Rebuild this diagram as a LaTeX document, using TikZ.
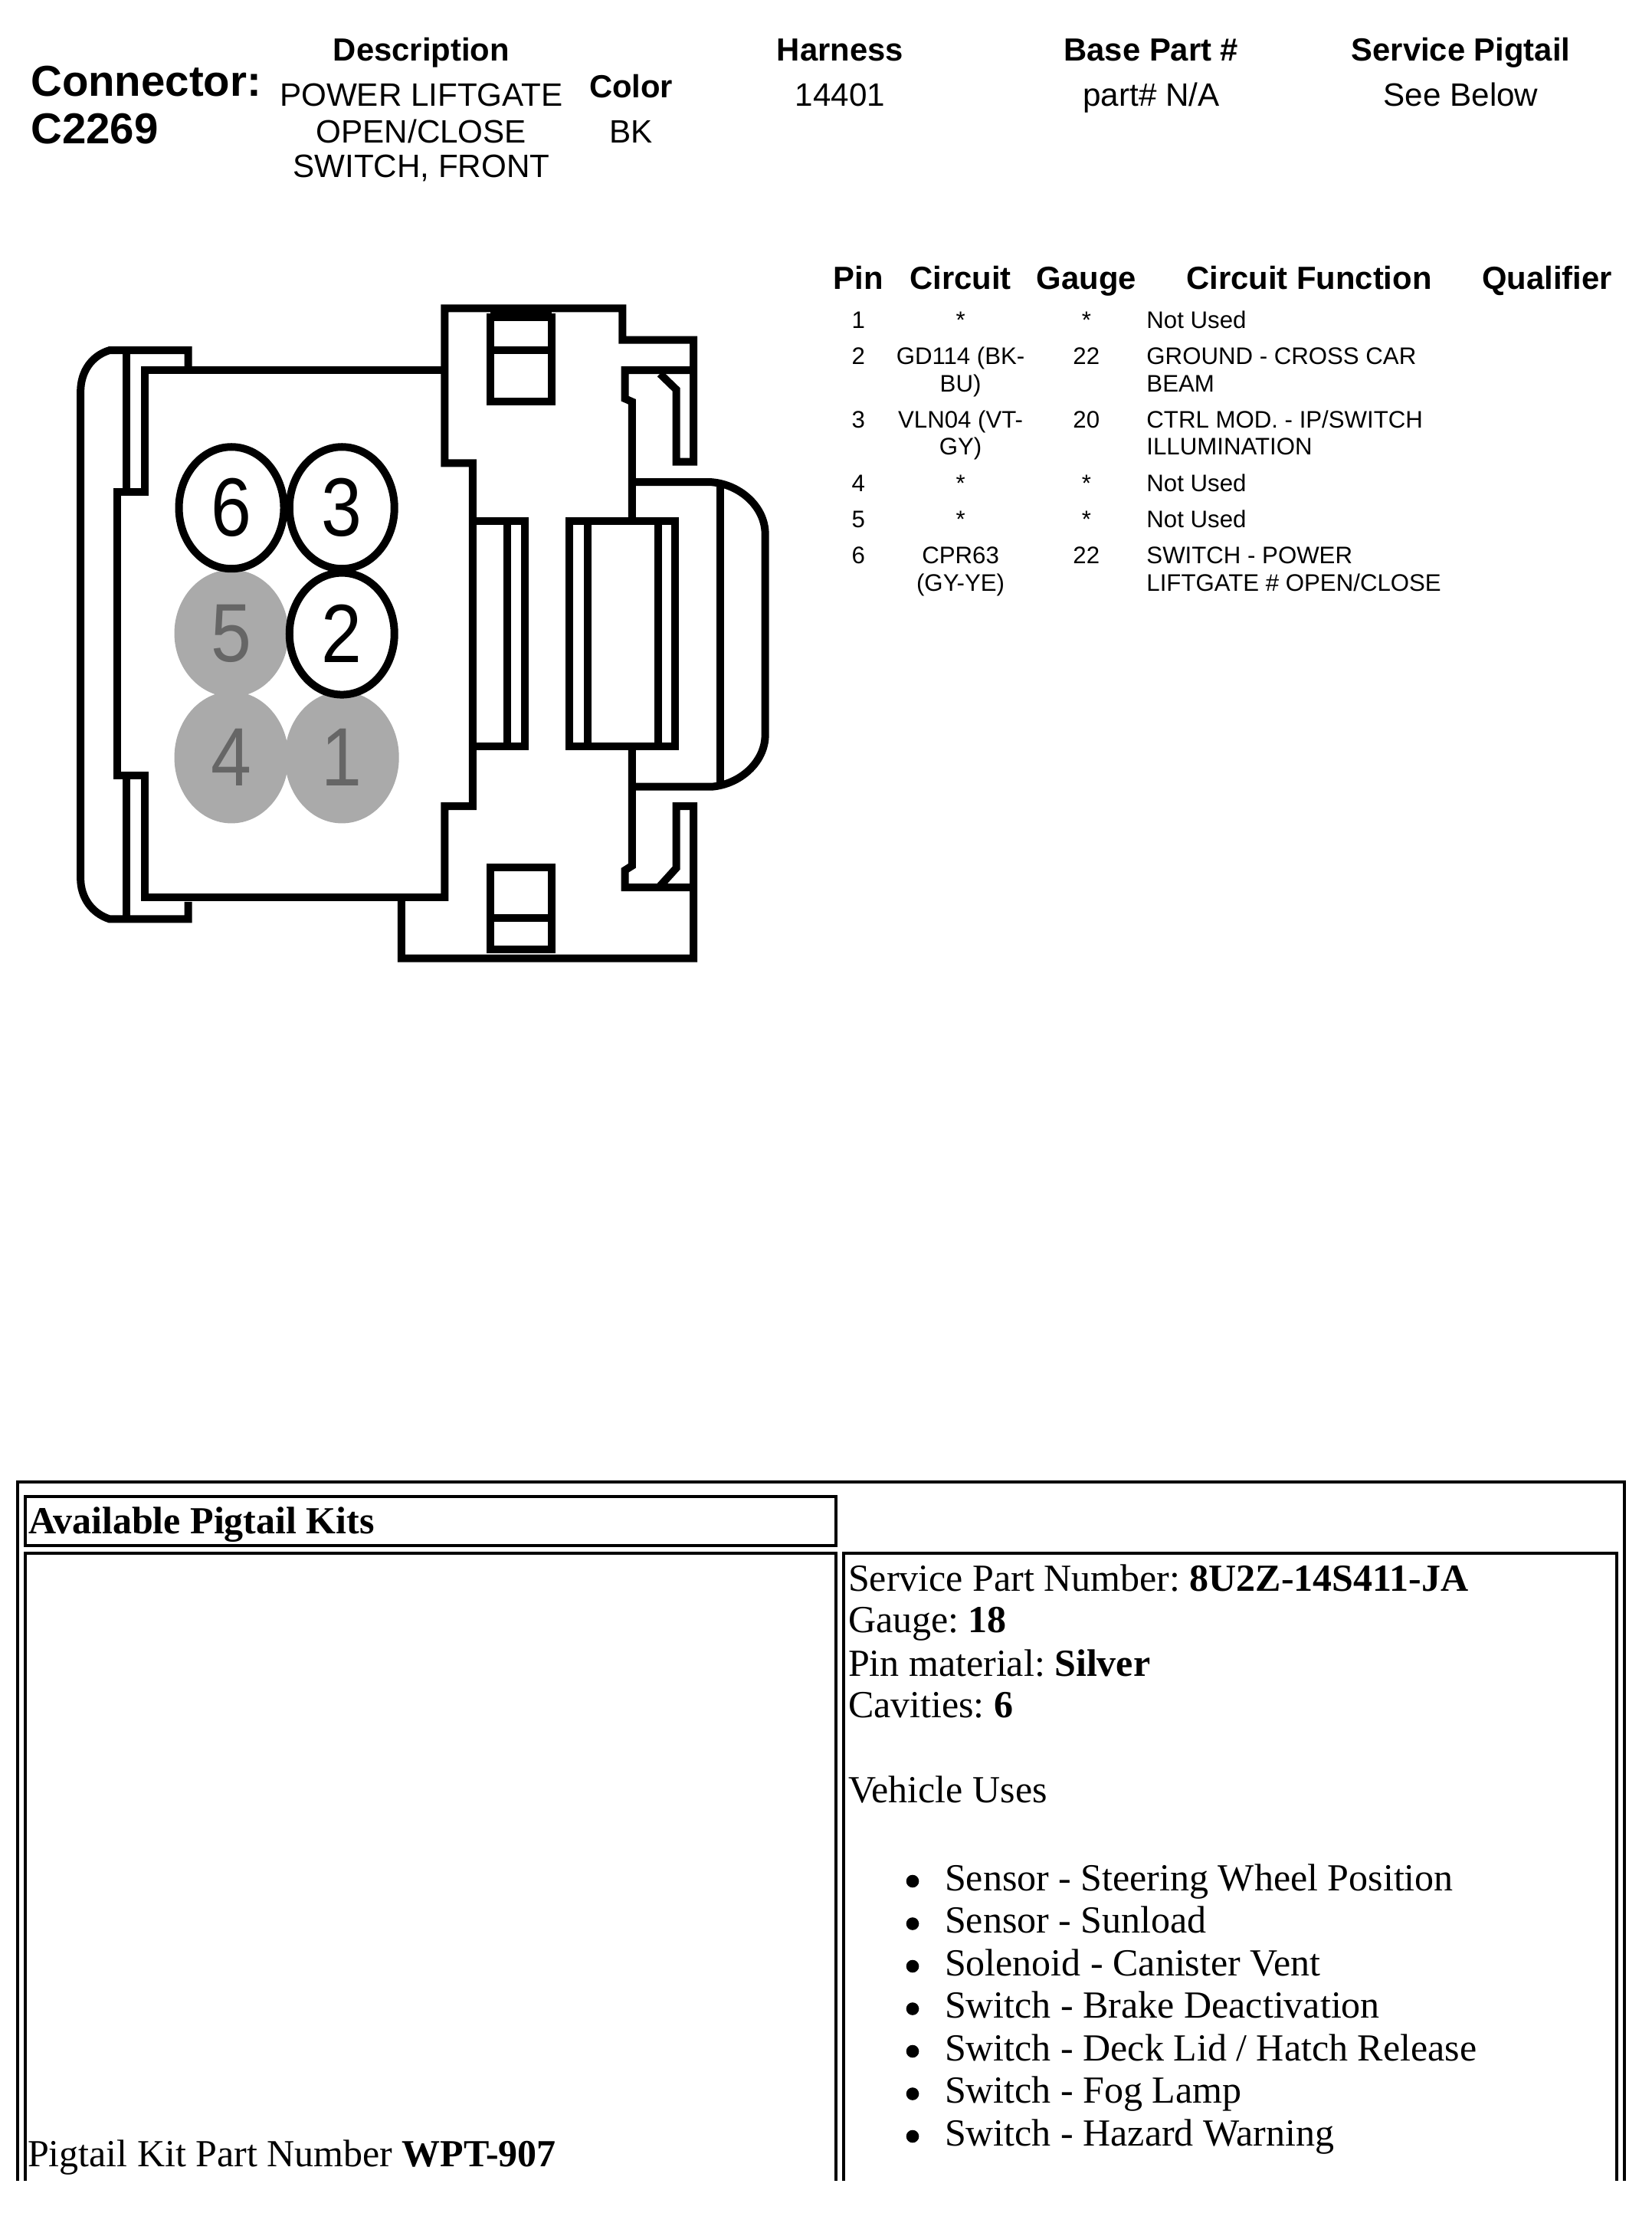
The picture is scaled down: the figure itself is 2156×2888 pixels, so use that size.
\documentclass[tikz,border=0pt]{standalone}
\usepackage{fontspec}
\setmainfont{Liberation Serif}
\newfontfamily\arial{Liberation Sans}
\newfontfamily\pindigit[FakeStretch=0.88]{Liberation Sans}
\usetikzlibrary{shapes.geometric}
\definecolor{pinfill}{HTML}{AAAAAA}
\definecolor{pintext}{HTML}{666666}
\tikzset{
  x=0.5pt,y=-0.5pt,
  every node/.style={inner sep=0pt,outer sep=0pt},
  big/.style={anchor=base west,font=\arial\bfseries\fontsize{28.2}{30}\selectfont},
  hd/.style={anchor=base,font=\arial\bfseries\fontsize{20.9}{24}\selectfont},
  val/.style={anchor=base,font=\arial\fontsize{21.1}{24}\selectfont},
  cell/.style={anchor=base,font=\arial\fontsize{15.6}{18}\selectfont},
  fn/.style={cell,anchor=base west},
  ser/.style={anchor=base west,font=\frenchspacing\fontsize{25}{30}\selectfont},
  serb/.style={anchor=base west,font=\frenchspacing\bfseries\fontsize{25}{30}\selectfont},
  frame/.style={draw=black,line width=2pt},
  wall/.style={draw=black,line width=5pt,line join=miter,line cap=butt},
  pinopen/.style={ellipse,draw=black,line width=5pt,fill=white,minimum width=68.5pt,minimum height=79.5pt,font=\pindigit\fontsize{54}{54}\selectfont,text=black},
  pinoff/.style={ellipse,fill=pinfill,minimum width=74.5pt,font=\pindigit\fontsize{54}{54}\selectfont,text=pintext},
}
\begin{document}
\begin{tikzpicture}
\useasboundingbox[fill=white] (0,0) rectangle (2156,2888);
\begin{scope}[shift={(1.5,1)},x=0.49765pt,y=-0.49765pt]
% header
\node[big] (conn) at (39,125) {Connector:};
\node[big] (cnum) at (39,187) {C2269};
\node[hd] (hdesc) at (551,79) {Description};
\node[val] (d1) at (551,138) {POWER LIFTGATE};
\node[val] (d2) at (551,186) {OPEN/CLOSE};
\node[val] (d3) at (551,232) {SWITCH, FRONT};
\node[hd] (hcol) at (826,127) {Color};
\node[val] (col) at (826,186) {BK};
\node[hd] (hhar) at (1100,79) {Harness};
\node[val] (har) at (1100,138) {14401};
\node[hd] (hbase) at (1508,79) {Base Part \#};
\node[val] (base) at (1508,138) {part\# N/A};
\node[hd] (hsvc) at (1914,79) {Service Pigtail};
\node[val] (svc) at (1914,138) {See Below};
% pin table
\node[hd] (tp) at (1124,378) {Pin};
\node[hd] (tc) at (1258,378) {Circuit};
\node[hd] (tg) at (1423,378) {Gauge};
\node[hd] (tf) at (1715,378) {Circuit Function};
\node[hd] (tq) at (2027,378) {Qualifier};
\node[cell] (p1) at (1124,430) {1};
\node[cell] (c1) at (1258,430) {*};
\node[cell] (g1) at (1423,430) {*};
\node[fn]   (f1) at (1502,430) {Not Used};
\node[cell] (p2) at (1124,477) {2};
\node[cell] (c2a) at (1258,477) {GD114 (BK-};
\node[cell] (c2b) at (1258,513) {BU)};
\node[cell] (g2) at (1423,477) {22};
\node[fn]   (f2a) at (1502,477) {GROUND - CROSS CAR};
\node[fn]   (f2b) at (1502,513) {BEAM};
\node[cell] (p3) at (1124,560) {3};
\node[cell] (c3a) at (1258,560) {VLN04 (VT-};
\node[cell] (c3b) at (1258,595) {GY)};
\node[cell] (g3) at (1423,560) {20};
\node[fn]   (f3a) at (1502,560) {CTRL MOD. - IP/SWITCH};
\node[fn]   (f3b) at (1502,595) {ILLUMINATION};
\node[cell] (p4) at (1124,644) {4};
\node[cell] (c4) at (1258,644) {*};
\node[cell] (g4) at (1423,644) {*};
\node[fn]   (f4) at (1502,644) {Not Used};
\node[cell] (p5) at (1124,691) {5};
\node[cell] (c5) at (1258,691) {*};
\node[cell] (g5) at (1423,691) {*};
\node[fn]   (f5) at (1502,691) {Not Used};
\node[cell] (p6) at (1124,738) {6};
\node[cell] (c6a) at (1258,738) {CPR63};
\node[cell] (c6b) at (1258,774) {(GY-YE)};
\node[cell] (g6) at (1423,738) {22};
\node[fn]   (f6a) at (1502,738) {SWITCH - POWER};
\node[fn]   (f6b) at (1502,774) {LIFTGATE \# OPEN/CLOSE};
\end{scope}
% connector drawing, in a local grid
\begin{scope}[shift={(60,370)},x=0.3135pt,y=-0.2945pt]
  % left cap and shell
  \draw[wall] (296,190) -- (296,148) -- (132,148) .. controls (95,160) and (72,195) .. (72,240)
     -- (72,1318) .. controls (72,1360) and (95,1395) .. (132,1408) -- (296,1408) -- (296,1370);
  \draw[wall] (830,192) -- (205,192) -- (205,462) -- (148,462) -- (148,1090) -- (205,1090) -- (205,1360) -- (830,1360);
  \draw[wall] (167,150) -- (167,462);
  \draw[wall] (167,1095) -- (167,1408);
  % body
  \draw[wall] (830,1368) -- (830,1158) -- (888,1158) -- (888,398) -- (830,398) -- (830,55) -- (1200,55) -- (1200,125) -- (1348,125) -- (1348,395) -- (1312,395) -- (1312,235) -- (1278,200);
  \draw[wall] (1348,192) -- (1205,192) -- (1205,255) -- (1220,262) -- (1220,527);
  \draw[wall] (1220,1025) -- (1220,1290) -- (1205,1300) -- (1205,1338) -- (1348,1338);
  \draw[wall] (1278,1335) -- (1312,1295) -- (1312,1158) -- (1348,1158) -- (1348,1495) -- (740,1495) -- (740,1360);
  % latches
  \fill (925,60) rectangle (1053,82);
  \draw[wall] (925,75) rectangle (1053,262);
  \draw[wall] (925,148) -- (1053,148);
  \draw[wall] (925,1293) rectangle (1053,1475);
  \draw[wall] (925,1405) -- (1053,1405);
  % centre
  \draw[wall] (888,527) -- (997,527) -- (997,1025) -- (888,1025);
  \draw[wall] (960,527) -- (960,1025);
  \draw[wall] (1090,527) rectangle (1310,1025);
  \draw[wall] (1127,527) -- (1127,1025);
  \draw[wall] (1275,527) -- (1275,1025);
  % right cap
  \draw[wall] (1220,440) -- (1385,440) .. controls (1445,445) and (1497,495) .. (1497,555)
     -- (1497,1000) .. controls (1497,1060) and (1445,1110) .. (1385,1115) -- (1220,1115);
  \draw[wall] (1403,445) -- (1403,1110);
  % pins
  \node[pinoff,minimum height=83pt] (pin5) at (386,775) {5};
  \node[pinoff,minimum height=86pt] (pin4) at (386,1050) {4};
  \node[pinoff,minimum height=86pt] (pin1) at (616,1050) {1};
  \node[pinopen] (pin6) at (386,497) {6};
  \node[pinopen] (pin3) at (616,497) {3};
  \node[pinopen] (pin2) at (616,776) {2};
\end{scope}
% pigtail table
\draw[frame] (23,2846) -- (23,1934) -- (2120,1934) -- (2120,2846);
\draw[frame] (32.5,1953) rectangle (1091,2017);
\draw[frame] (32.5,2846) -- (32.5,2027) -- (1091,2027) -- (1091,2846);
\draw[frame] (1101,2846) -- (1101,2027) -- (2110,2027) -- (2110,2846);
\node[serb] (avail) at (37,2001.7) {Available Pigtail Kits};
\node[ser] (kit) at (36,2827.5) {Pigtail Kit Part Number \textbf{WPT-907}};
\node[ser] (spn) at (1107,2076) {Service Part Number: \textbf{8U2Z-14S411-JA}};
\node[ser] (gau) at (1107,2130) {Gauge: \textbf{18}};
\node[ser] (pinm) at (1107,2187) {Pin material: \textbf{Silver}};
\node[ser] (cav) at (1107,2241.5) {Cavities: \textbf{6}};
\node[ser] (veh) at (1107,2352) {Vehicle Uses};
\foreach \nm/\yy/\tx in {u1/2467/{Sensor - Steering Wheel Position},
  u2/2522.5/{Sensor - Sunload},
  u3/2578/{Solenoid - Canister Vent},
  u4/2633.5/{Switch - Brake Deactivation},
  u5/2689/{Switch - Deck Lid / Hatch Release},
  u6/2744.5/{Switch - Fog Lamp},
  u7/2800/{Switch - Hazard Warning}}{
  \node[ser] (\nm) at (1233,\yy) {\tx};
  \fill (1191,\yy-12) circle[radius=8.3];
}
\end{tikzpicture}
\end{document}
